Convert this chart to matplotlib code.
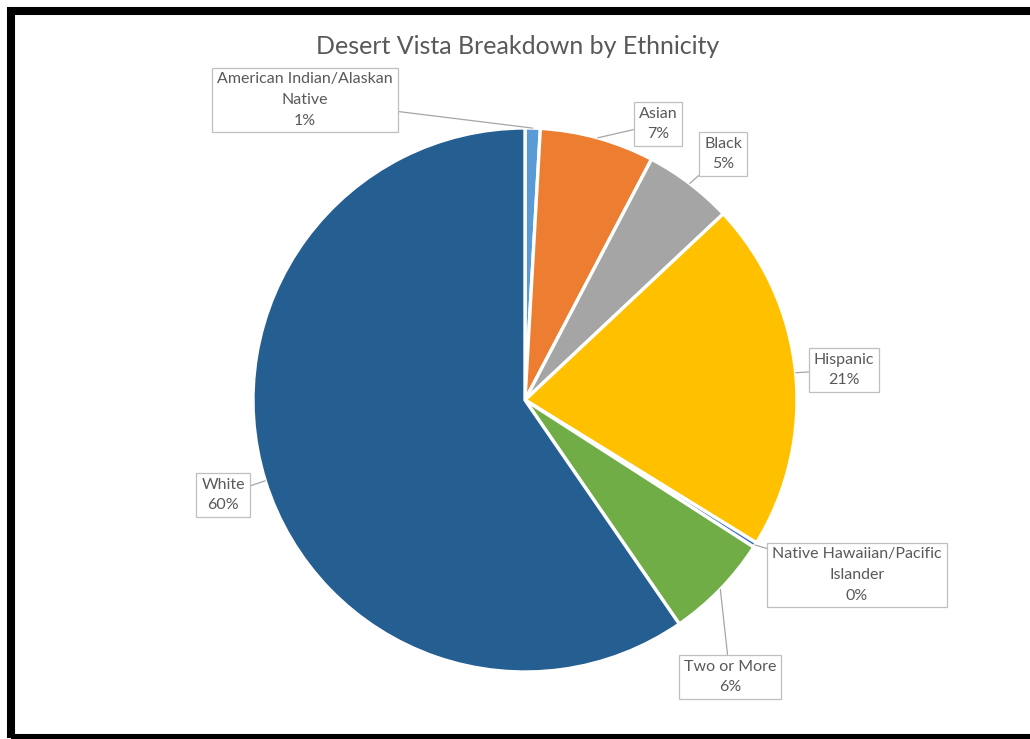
import numpy as np
import matplotlib.pyplot as plt
from matplotlib.patches import Rectangle

# enrollment share by ethnicity (percent)
groups = ["American Indian/Alaskan\nNative", "Asian", "Black", "Hispanic",
          "Native Hawaiian/Pacific\nIslander", "Two or More", "White"]
shares = [0.9, 6.8, 5.3, 20.8, 0.3, 6.3, 59.6]
colors = ["#5B9BD5", "#ED7D31", "#A5A5A5", "#FFC000", "#4472C4", "#70AD47", "#255E91"]

# label box centres, in pixels from the top-left
label_pos = [(305, 100), (658, 124), (723, 154), (844, 370),
             (857, 575), (730, 677), (223, 495)]

W, H = 1030, 739
cx, cy, R = 525, 400, 272

plt.rcParams['font.family'] = ['Lato', 'DejaVu Sans']

fig = plt.figure(figsize=(W / 100, H / 100), dpi=100)
ax = fig.add_axes([0, 0, 1, 1])

wedges, _ = ax.pie(shares, colors=colors, startangle=90, counterclock=False,
                   center=(cx, H - cy), radius=R,
                   wedgeprops=dict(edgecolor='white', linewidth=2.4))
ax.set_xlim(0, W)
ax.set_ylim(0, H)
ax.set_aspect('equal')
ax.axis('off')

for w, name, val, (lx, ly) in zip(wedges, groups, shares, label_pos):
    mid = np.deg2rad((w.theta1 + w.theta2) / 2)
    px = cx + R * np.cos(mid)
    py = H - cy + R * np.sin(mid)
    ax.annotate(f"{name}\n{round(val)}%", xy=(px, py), xytext=(lx, H - ly),
                ha='center', va='center', fontsize=11.5, color='#595959',
                linespacing=1.6,
                bbox=dict(boxstyle='square,pad=0.3', fc='white', ec='#BFBFBF', lw=0.9),
                arrowprops=dict(arrowstyle='-', color='#A6A6A6', lw=0.9,
                                shrinkA=0, shrinkB=0))

ax.text(518, H - 47, "Desert Vista Breakdown by Ethnicity", ha='center', va='center',
        fontsize=18, color='#595959')

# heavy black frame around the chart
ax.add_patch(Rectangle((11, 1), W + 20, H - 12, fill=False, ec='black', lw=5.8,
                       clip_on=False))

fig.savefig("out.png", dpi=100)
